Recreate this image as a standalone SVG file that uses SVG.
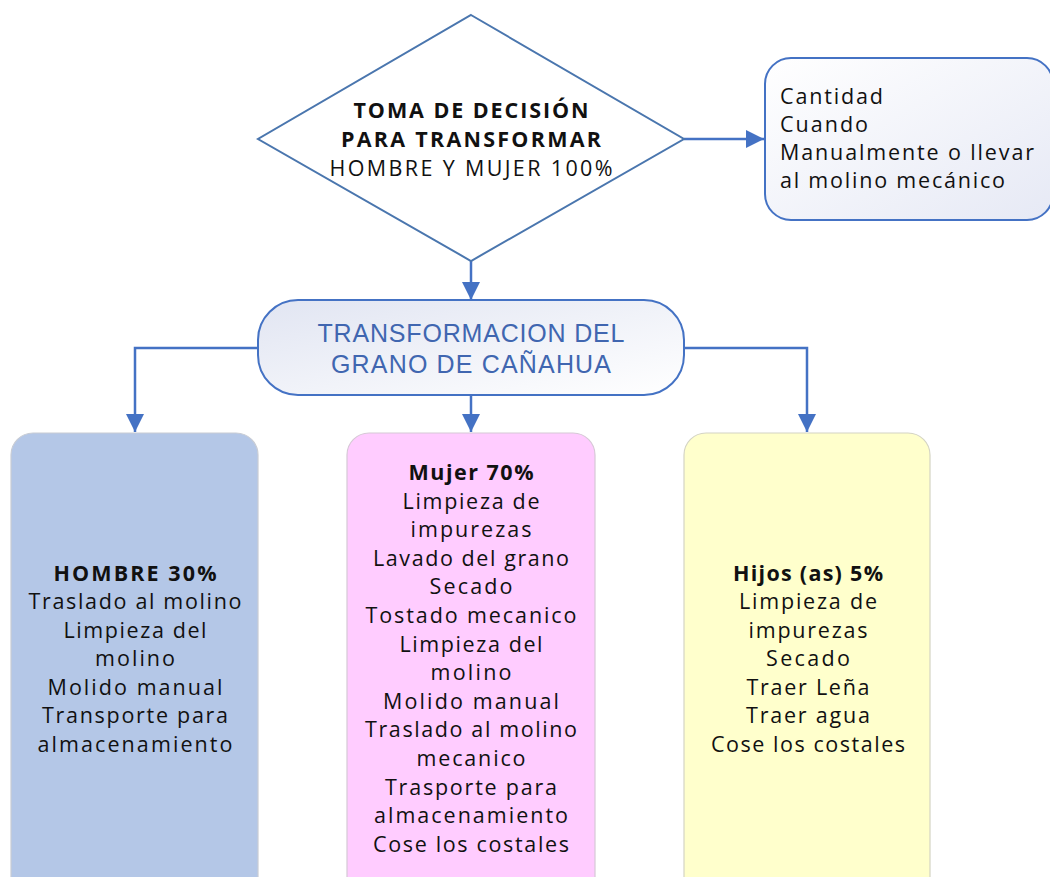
<svg xmlns="http://www.w3.org/2000/svg" width="1050" height="877" viewBox="0 0 1050 877">
<defs>
<style>
.t{font-family:"Open Sans","Liberation Sans",sans-serif;font-size:21.5px;fill:#111;text-anchor:middle}
.b{font-weight:bold}
.tl{text-anchor:start}
.conn{fill:none;stroke:#4472C4;stroke-width:2.5}
.mid{font-family:"Liberation Sans",sans-serif;font-size:25px;fill:#4066B0;text-anchor:middle}
</style>
<marker id="ah" markerUnits="userSpaceOnUse" markerWidth="18" markerHeight="18" viewBox="0 0 18 18" refX="18" refY="9" orient="auto">
<path d="M0,0 L18,9 L0,18 z" fill="#4472C4"/>
</marker>
<linearGradient id="gm" x1="0" y1="0" x2="1" y2="1">
<stop offset="0" stop-color="#E1E5F2"/>
<stop offset="1" stop-color="#FFFFFF"/>
</linearGradient>
<linearGradient id="gr" x1="0" y1="0" x2="1" y2="1">
<stop offset="0" stop-color="#FFFFFF"/>
<stop offset="1" stop-color="#E6E9F5"/>
</linearGradient>
</defs>

<g id="connectors">
<line class="conn" x1="684" y1="139" x2="764" y2="139" marker-end="url(#ah)"/>
<line class="conn" x1="471" y1="261" x2="471" y2="300" marker-end="url(#ah)"/>
<polyline class="conn" points="258,348 135,348 135,432" marker-end="url(#ah)"/>
<line class="conn" x1="471" y1="395" x2="471" y2="432" marker-end="url(#ah)"/>
<polyline class="conn" points="684,348 807,348 807,432" marker-end="url(#ah)"/>
</g>

<g id="decision">
<polygon points="471,15 684,139 471,261 258,139" fill="#FFFFFF" stroke="#4A76AE" stroke-width="2"/>
<text class="t b" x="471" y="118" font-size="20.5" textLength="235">TOMA DE DECISIÓN</text>
<text class="t b" x="471" y="147" font-size="20.5" textLength="260">PARA TRANSFORMAR</text>
<text class="t" x="471" y="176" font-size="20.5" textLength="283">HOMBRE Y MUJER 100%</text>
</g>

<g id="criteria">
<rect x="765" y="58" width="288" height="162" rx="26" fill="url(#gr)" stroke="#4472C4" stroke-width="2"/>
<text class="t tl" x="780" y="104" textLength="103">Cantidad</text>
<text class="t tl" x="780" y="132" textLength="88">Cuando</text>
<text class="t tl" x="780" y="160" textLength="254">Manualmente o llevar</text>
<text class="t tl" x="780" y="188" textLength="225">al molino mecánico</text>
</g>

<g id="transformacion">
<rect x="258" y="300" width="426" height="95" rx="40" fill="url(#gm)" stroke="#4472C4" stroke-width="2"/>
<text class="mid" x="471" y="342" textLength="307">TRANSFORMACION DEL</text>
<text class="mid" x="471" y="373" textLength="280">GRANO DE CAÑAHUA</text>
</g>

<g id="hombre">
<rect x="11" y="433" width="247" height="470" rx="22" fill="#B4C7E7" stroke="#C8CCD4" stroke-width="1.2"/>
<text class="t b" x="135" y="580.5" textLength="163">HOMBRE 30%</text>
<text class="t" x="135" y="609" textLength="213">Traslado al molino</text>
<text class="t" x="135" y="637.5" textLength="143">Limpieza del</text>
<text class="t" x="135" y="666" textLength="80">molino</text>
<text class="t" x="135" y="694.5" textLength="175">Molido manual</text>
<text class="t" x="135" y="723" textLength="186">Transporte para</text>
<text class="t" x="135" y="751.5" textLength="195">almacenamiento</text>
</g>

<g id="mujer">
<rect x="347" y="433" width="248" height="470" rx="22" fill="#FFCCFF" stroke="#D6C8D6" stroke-width="1.2"/>
<text class="t b" x="471" y="480" textLength="125">Mujer 70%</text>
<text class="t" x="471" y="508.6" textLength="137">Limpieza de</text>
<text class="t" x="471" y="537.2" textLength="121">impurezas</text>
<text class="t" x="471" y="565.8" textLength="196">Lavado del grano</text>
<text class="t" x="471" y="594.4" textLength="83">Secado</text>
<text class="t" x="471" y="623" textLength="211">Tostado mecanico</text>
<text class="t" x="471" y="651.6" textLength="143">Limpieza del</text>
<text class="t" x="471" y="680.2" textLength="81">molino</text>
<text class="t" x="471" y="708.8" textLength="176">Molido manual</text>
<text class="t" x="471" y="737.4" textLength="212">Traslado al molino</text>
<text class="t" x="471" y="766" textLength="109">mecanico</text>
<text class="t" x="471" y="794.6" textLength="172">Trasporte para</text>
<text class="t" x="471" y="823.2" textLength="194">almacenamiento</text>
<text class="t" x="471" y="851.8" textLength="196">Cose los costales</text>
</g>

<g id="hijos">
<rect x="684" y="433" width="246" height="470" rx="22" fill="#FFFFCC" stroke="#D4D4C4" stroke-width="1.2"/>
<text class="t b" x="808" y="580.5" textLength="150">Hijos (as) 5%</text>
<text class="t" x="808" y="609" textLength="138">Limpieza de</text>
<text class="t" x="808" y="637.5" textLength="119">impurezas</text>
<text class="t" x="808" y="666" textLength="84">Secado</text>
<text class="t" x="808" y="694.5" textLength="123">Traer Leña</text>
<text class="t" x="808" y="723" textLength="124">Traer agua</text>
<text class="t" x="808" y="751.5" textLength="194">Cose los costales</text>
</g>
</svg>
